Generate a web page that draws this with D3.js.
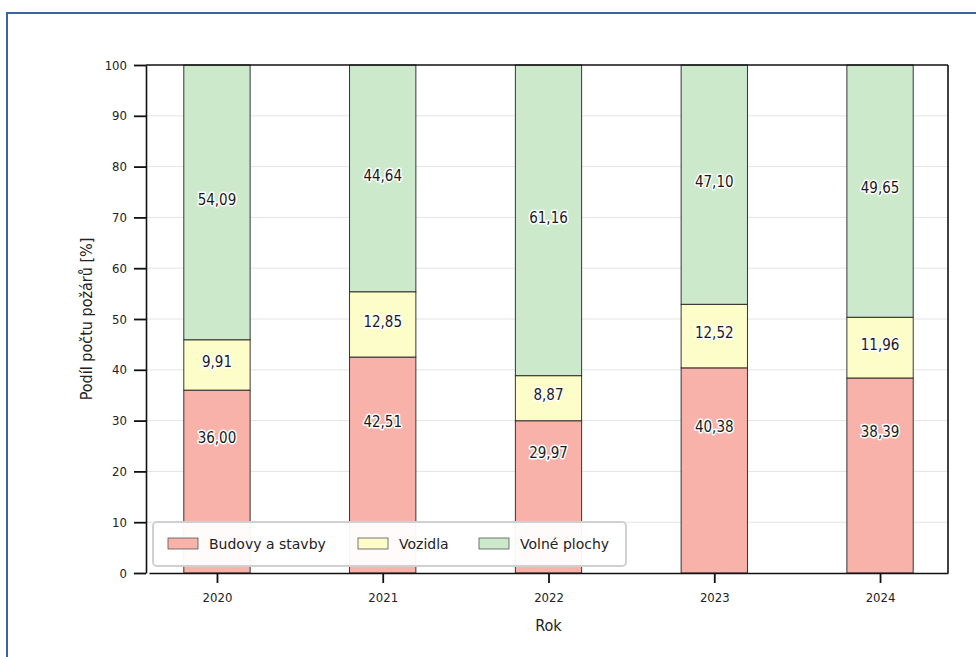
<!DOCTYPE html>
<html>
<head>
<meta charset="utf-8">
<script src="https://cdn.jsdelivr.net/npm/d3@7"></script>
<style>
  body { margin: 0; background: #fff; }
  svg { display: block; }
  .narrow { font-family: "Liberation Sans Narrow", "DejaVu Sans Condensed", sans-serif; }
</style>
</head>
<body>
<div id="chart"></div>
<script>
// data
const years = ["2020", "2021", "2022", "2023", "2024"];
const seriesNames = ["Budovy a stavby", "Vozidla", "Volné plochy"];
const budovy = [36.00, 42.51, 29.97, 40.38, 38.39];
const vozidla = [9.91, 12.85, 8.87, 12.52, 11.96];
const volne = [54.09, 44.64, 61.16, 47.10, 49.65];
const yTicks = [0, 10, 20, 30, 40, 50, 60, 70, 80, 90, 100];
const colors = ["#f8b2aa", "#fdfdc9", "#cce9cc"];

const W = 976, H = 657;
const margin = { top: 65, right: 28, bottom: 84, left: 146 },
  width = W - margin.left - margin.right,
  height = H - margin.top - margin.bottom;

const root = d3.select("#chart").append("svg")
  .attr("width", W)
  .attr("height", H);

// outer blue frame
root.append("rect")
  .attr("x", 7).attr("y", 13)
  .attr("width", 990).attr("height", 670)
  .attr("fill", "none")
  .attr("stroke", "#3a63a6")
  .attr("stroke-width", 2);

const svg = root.append("g")
  .attr("transform", `translate(${margin.left},${margin.top})`);

const x = d3.scalePoint()
  .domain(years)
  .range([3, width])
  .padding(0.41);
const barW = x.step() * 0.4;

const y = d3.scaleLinear()
  .domain([0, 100])
  .range([height, 0]);

// gridlines
svg.append("g")
  .selectAll("line")
  .data(yTicks.slice(1, -1))
  .join("line")
  .attr("x1", 0).attr("x2", width)
  .attr("y1", d => y(d)).attr("y2", d => y(d))
  .attr("stroke", "#e4e4e4")
  .attr("stroke-width", 1);

// stack
const table = years.map((yr, i) => ({
  year: yr,
  [seriesNames[0]]: budovy[i],
  [seriesNames[1]]: vozidla[i],
  [seriesNames[2]]: volne[i]
}));
const stacked = d3.stack().keys(seriesNames)(table);

stacked.forEach((layer, li) => {
  svg.append("g")
    .selectAll("rect")
    .data(layer)
    .join("rect")
    .attr("x", d => x(d.data.year) - barW / 2)
    .attr("width", barW)
    .attr("y", d => y(d[1]))
    .attr("height", d => y(d[0]) - y(d[1]))
    .attr("fill", colors[li])
    .attr("stroke", "#222")
    .attr("stroke-width", 0.9);
});

// value labels (bottom series shifted up, clear of the legend)
stacked.forEach((layer, li) => {
  svg.append("g")
    .selectAll("text")
    .data(layer)
    .join("text")
    .attr("class", "narrow")
    .attr("x", d => x(d.data.year))
    .attr("y", d => {
      const lo = li === 0 ? d[0] + 16 : d[0];
      return y((lo + d[1]) / 2);
    })
    .attr("dy", "0.15em")
    .attr("text-anchor", "middle")
    .attr("font-size", "15px")
    .attr("fill", "#1a1a1a")
    .attr("stroke", "#fff")
    .attr("stroke-width", 3)
    .attr("stroke-linejoin", "round")
    .attr("paint-order", "stroke")
    .text(d => (d[1] - d[0]).toFixed(2).replace(".", ","));
});

// axes
const yAxis = svg.append("g")
  .call(d3.axisLeft(y).tickValues(yTicks).tickSize(12).tickSizeOuter(0).tickPadding(7));
yAxis.select(".domain").attr("stroke", "#111").attr("stroke-width", 1.6);
yAxis.selectAll(".tick line").attr("stroke", "#111").attr("stroke-width", 1.8);
yAxis.selectAll("text").attr("class", "narrow").attr("font-size", "13px").attr("fill", "#222");

const xAxis = svg.append("g")
  .attr("transform", `translate(0,${height})`)
  .call(d3.axisBottom(x).tickSize(10).tickSizeOuter(0).tickPadding(10));
xAxis.select(".domain").attr("stroke", "#111").attr("stroke-width", 1.6);
xAxis.selectAll(".tick line").attr("stroke", "#111").attr("stroke-width", 1.8);
xAxis.selectAll("text").attr("class", "narrow").attr("font-size", "13px").attr("fill", "#222");

// top and right frame
svg.append("line")
  .attr("x1", 0).attr("x2", width).attr("y1", 0).attr("y2", 0)
  .attr("stroke", "#111").attr("stroke-width", 1.6);
svg.append("line")
  .attr("x1", width).attr("x2", width).attr("y1", 0).attr("y2", height)
  .attr("stroke", "#111").attr("stroke-width", 1.6);

// axis titles
svg.append("text")
  .attr("class", "narrow")
  .attr("x", x("2022"))
  .attr("y", height + 58)
  .attr("text-anchor", "middle")
  .attr("font-size", "16px")
  .attr("fill", "#222")
  .text("Rok");

svg.append("text")
  .attr("class", "narrow")
  .attr("transform", `translate(-54,${height / 2}) rotate(-90)`)
  .attr("text-anchor", "middle")
  .attr("font-size", "16px")
  .attr("fill", "#222")
  .text("Podíl počtu požárů [%]");

// legend
const legend = svg.append("g")
  .attr("transform", `translate(7,${height - 51})`);
legend.append("rect")
  .attr("width", 473).attr("height", 44)
  .attr("rx", 4)
  .attr("fill", "#fff")
  .attr("fill-opacity", 0.95)
  .attr("stroke", "#d0d0d0")
  .attr("stroke-width", 2);

const legendX = [15, 205, 326];
seriesNames.forEach((name, i) => {
  const g = legend.append("g").attr("transform", `translate(${legendX[i]},16)`);
  g.append("rect")
    .attr("width", 30).attr("height", 11)
    .attr("fill", colors[i])
    .attr("stroke", "#555")
    .attr("stroke-width", 0.8);
  g.append("text")
    .attr("x", 41).attr("y", 10.5)
    .attr("font-family", "DejaVu Sans, sans-serif")
    .attr("font-size", "14px")
    .attr("fill", "#222")
    .text(name);
});
</script>
</body>
</html>
